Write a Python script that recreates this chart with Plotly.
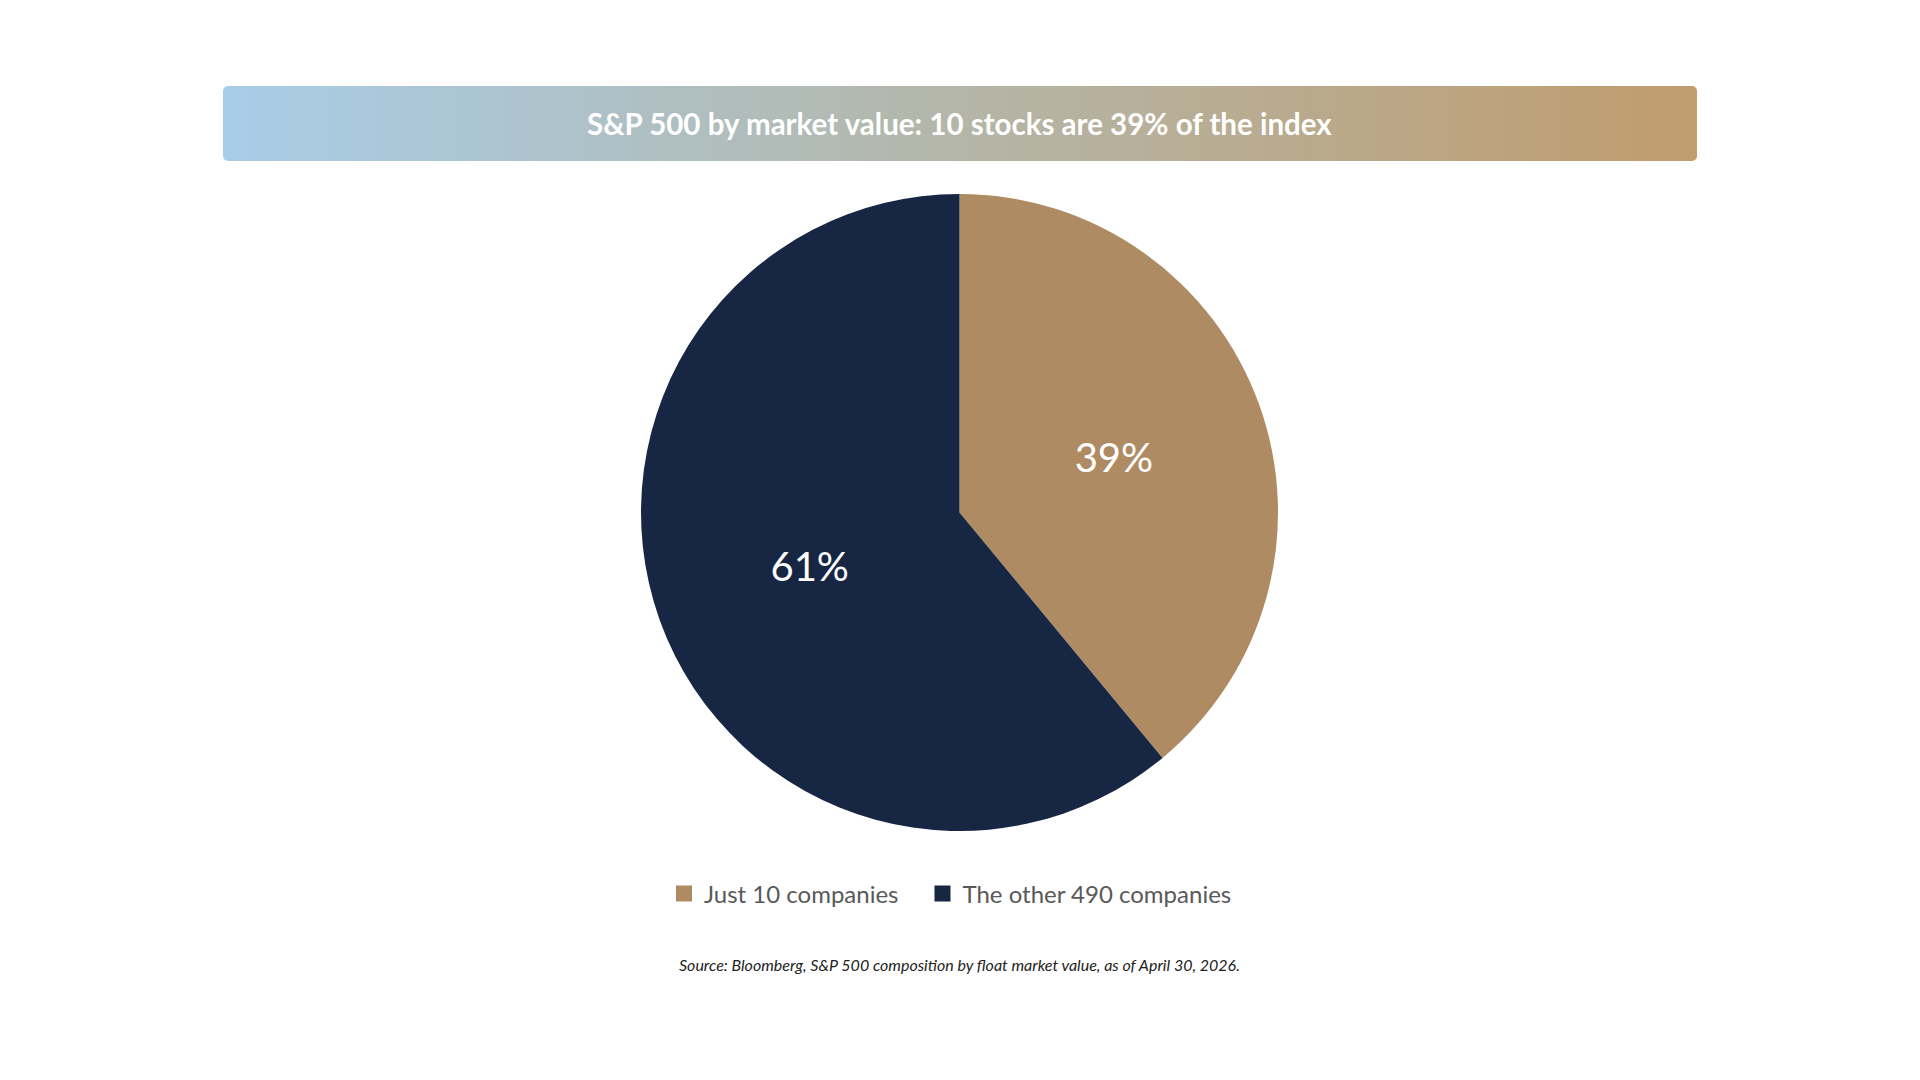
import base64
import plotly.graph_objects as go

# data
labels = ["Just 10 companies", "The other 490 companies"]
shares = [39, 61]
colors = ["#AF8B63", "#172743"]

TITLE = "S&P 500 by market value: 10 stocks are 39% of the index"
SOURCE = "Source: Bloomberg, S&P 500 composition by float market value, as of April 30, 2026."

W, H = 1920, 1080
FONT = "Lato, 'Open Sans', sans-serif"
CX = 951.5  # horizontal centre of the composition, px

# gradient title bar as an inline svg image
bar_svg = """<svg xmlns='http://www.w3.org/2000/svg' width='1474' height='75' viewBox='0 0 1474 75'>
<defs><linearGradient id='g' x1='0' y1='0' x2='1' y2='0'>
<stop offset='0' stop-color='#A8CDE8'/><stop offset='0.5' stop-color='#B4B6A8'/>
<stop offset='1' stop-color='#C09C6E'/></linearGradient></defs>
<rect x='0' y='0' width='1474' height='75' rx='5' ry='5' fill='url(#g)'/></svg>"""
bar_uri = "data:image/svg+xml;base64," + base64.b64encode(bar_svg.encode()).decode()

fig = go.Figure()
fig.add_trace(go.Pie(
    labels=labels, values=shares,
    marker=dict(colors=colors, line=dict(width=0)),
    sort=False, direction="clockwise", rotation=0,
    texttemplate="%{value}%", textposition="inside",
    insidetextfont=dict(family=FONT, size=40, color="white"),
    insidetextorientation="horizontal",
    hoverinfo="label+percent", showlegend=False,
    domain=dict(x=[(CX - 400) / W, (CX + 400) / W],
                y=[(H - 823) / H, (H - 186) / H]),
))

# legend entries (bigger square swatches than the pie legend gives),
# one legend box per entry so the spacing can follow the reference
legend_ids = ["legend", "legend2"]
for lab, col, lg in zip(labels, colors, legend_ids):
    fig.add_trace(go.Scatter(
        x=[None], y=[None], mode="markers", name=lab, legend=lg,
        marker=dict(symbol="square", size=16, color=col),
        hoverinfo="skip",
    ))

leg_common = dict(
    orientation="h", xanchor="left", y=(H - 886) / H, yanchor="middle",
    font=dict(family=FONT, size=24, color="#595959"),
    itemsizing="trace", itemwidth=30, bgcolor="rgba(0,0,0,0)",
)

fig.update_layout(
    width=W, height=H,
    paper_bgcolor="white", plot_bgcolor="white",
    margin=dict(l=0, r=0, t=0, b=0),
    font=dict(family=FONT, color="#555555"),
    xaxis=dict(visible=False), yaxis=dict(visible=False),
    showlegend=True,
    legend=dict(x=656 / W, **leg_common),
    legend2=dict(x=914.5 / W, **leg_common),
    images=[dict(
        source=bar_uri, xref="paper", yref="paper",
        x=215 / W, y=1 - 78 / H, sizex=1474 / W, sizey=75 / H,
        xanchor="left", yanchor="top", sizing="stretch", layer="below",
    )],
    annotations=[
        dict(
            text=f"<b>{TITLE}</b>", xref="paper", yref="paper",
            x=CX / W, y=1 - 116 / H, xanchor="center", yanchor="middle",
            showarrow=False, font=dict(family=FONT, size=29.5, color="white"),
        ),
        dict(
            text=f"<i>{SOURCE}</i>", xref="paper", yref="paper",
            x=CX / W, y=(H - 956) / H, xanchor="center", yanchor="middle",
            showarrow=False, font=dict(family=FONT, size=16, color="#222222"),
        ),
    ],
)

fig.write_html("out.html")
